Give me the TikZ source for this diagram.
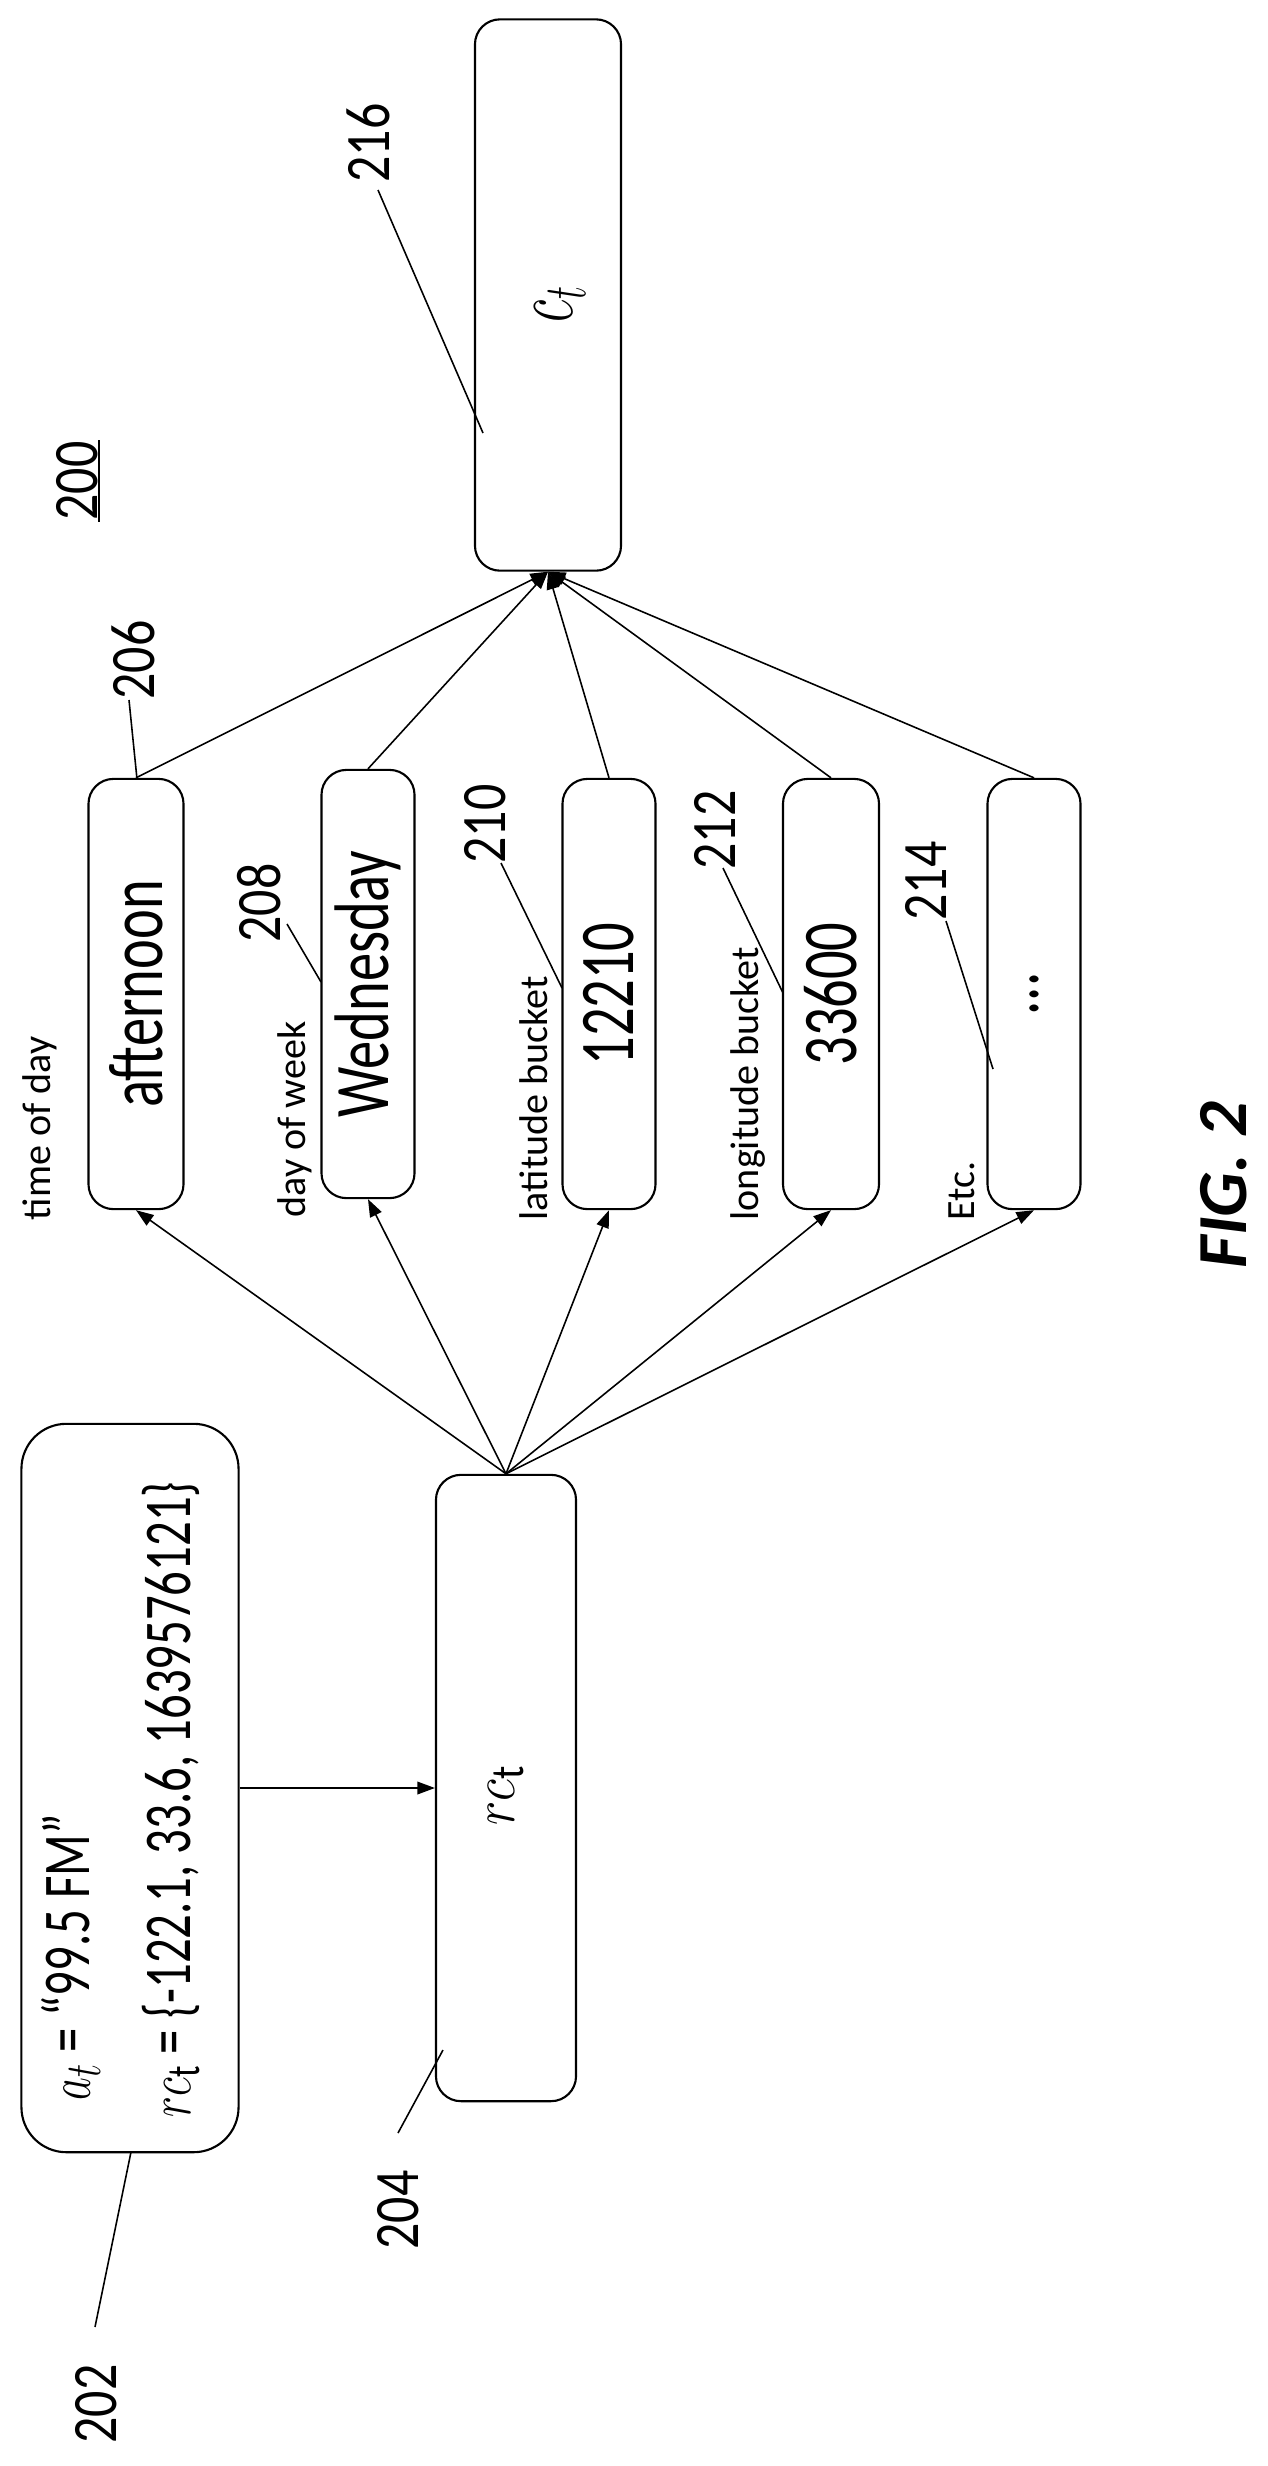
\documentclass[tikz,border=0pt]{standalone}
\usepackage{fontspec}
\setmainfont{Carlito}
\usetikzlibrary{arrows.meta}
\newcommand{\rt}[2]{\rotatebox{90}{\scalebox{#1}[1]{#2}}}
\begin{document}
\begin{tikzpicture}[x=0.01cm,y=-0.01cm,
  box/.style={draw,line width=0.6pt,rounded corners=0.25cm,inner sep=0pt},
  arr/.style={line width=0.45pt,-{Triangle[length=5pt,width=3.6pt]}},
  lead/.style={line width=0.45pt},
  num/.style={inner sep=0pt,font=\fontsize{18}{20}\selectfont},
  lab/.style={inner sep=0pt,anchor=south,font=\fontsize{11.4}{13}\selectfont},
  big/.style={font=\fontsize{22}{24}\selectfont}]
\useasboundingbox (0,0) rectangle (1268,2466);
% boxes
\node[box,minimum width=1.46cm,minimum height=5.51cm] (t) at (548,295) {};
\node[box,minimum width=0.95cm,minimum height=4.3cm,big] (a) at (136,994) {\rt{0.73}{afternoon}};
\node[box,minimum width=0.93cm,minimum height=4.28cm,big] (b) at (368,984) {\rt{0.73}{Wednesday}};
\node[box,minimum width=0.93cm,minimum height=4.3cm,big] (c) at (609,994) {\rt{0.73}{12210}};
\node[box,minimum width=0.96cm,minimum height=4.3cm,big] (d) at (831,994) {\rt{0.73}{33600}};
\node[box,minimum width=0.93cm,minimum height=4.3cm,big] (e) at (1034,994) {\rt{0.73}{...}};
\node[box,rounded corners=0.45cm,minimum width=2.17cm,minimum height=7.28cm] (in) at (130,1788) {};
\node[box,minimum width=1.4cm,minimum height=6.26cm] (r) at (506,1788) {};
% texts in boxes
\node[inner sep=0pt,font=\fontsize{26}{28}\selectfont] (ct) at (560,304) {\rt{0.6}{$c_t$}};
\node[inner sep=0pt,font=\fontsize{19}{21}\selectfont] (rct) at (506,1795) {\rt{0.85}{$rc_{\mathrm{t}}$}};
\node[inner sep=0pt,anchor=south,font=\fontsize{19}{21}\selectfont] (l1) at (71,2101) {\rt{0.73}{$a_t$ = “99.5 FM”}};
\node[inner sep=0pt,anchor=south,font=\fontsize{19}{21}\selectfont] (l2) at (171,2118) {\rt{0.73}{$rc_{\mathrm{t}}$ = \{-122.1, 33.6, 1639576121\}}};
% labels
\node[lab] (la) at (40,1221) {\rotatebox{90}{time of day}};
\node[lab] (lb) at (295,1218) {\rotatebox{90}{day of week}};
\node[lab] (lc) at (534,1221) {\rotatebox{90}{latitude bucket}};
\node[lab] (ld) at (748,1221) {\rotatebox{90}{longitude bucket}};
\node[lab] (le) at (962,1221) {\rotatebox{90}{Etc.}};
% arrows
\draw[arr] (in.east) -- (r.west);
\foreach \n in {a,b,c,d,e} {
  \draw[arr] (r.north) -- (\n.south);
  \draw[arr] (\n.north) -- (t.south);
}
% reference numbers
\node[num] (n216) at (368,143) {\rt{0.82}{216}};
\node[num] (n206) at (133,660) {\rt{0.82}{206}};
\node[num] (n208) at (259,903) {\rt{0.82}{208}};
\node[num] (n210) at (485,824) {\rt{0.82}{210}};
\node[num] (n212) at (715,830) {\rt{0.82}{212}};
\node[num] (n214) at (926,881) {\rt{0.82}{214}};
\node[num] (n204) at (398,2210) {\rt{0.82}{204}};
\node[num] (n202) at (96,2404) {\rt{0.82}{202}};
\node[num] (n200) at (77,481) {\rt{0.82}{200}};
\draw[line width=0.6pt] (99,440) -- (99,522);
\coordinate (p216) at (483,433);
\coordinate (p206) at (137,779);
\coordinate (p208) at (321,982);
\coordinate (p210) at (562,988);
\coordinate (p212) at (783,993);
\coordinate (p214) at (993,1069);
\coordinate (p204) at (443,2050);
\coordinate (p202) at (131,2152);
\coordinate (q216) at (378,190);
\coordinate (q206) at (129,700);
\coordinate (q208) at (287,924);
\coordinate (q210) at (501,863);
\coordinate (q212) at (723,868);
\coordinate (q214) at (946,921);
\coordinate (q204) at (398,2133);
\coordinate (q202) at (95,2327);
\foreach \k in {216,206,208,210,212,214,204,202} \draw[lead] (q\k) -- (p\k);
% figure title
\node[inner sep=0pt,font=\fontsize{20}{22}\selectfont\bfseries\itshape] (fig) at (1224,1185) {\rotatebox{90}{FIG. 2}};
\end{tikzpicture}
\end{document}
